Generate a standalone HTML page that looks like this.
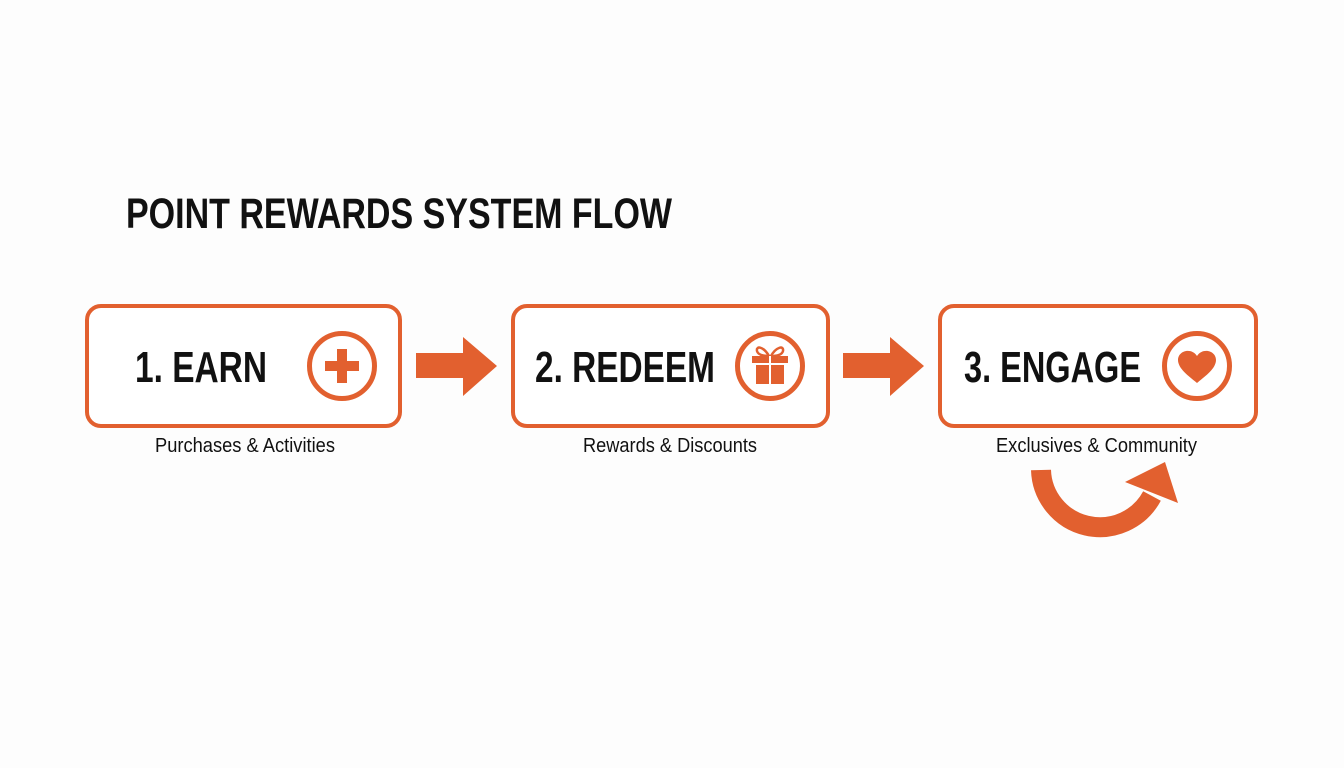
<!DOCTYPE html>
<html>
<head>
<meta charset="utf-8">
<style>
  html, body { margin: 0; padding: 0; background: #fdfdfd; }
  svg { display: block; }
  text { font-family: "Liberation Sans", Arial, sans-serif; fill: #111; }
</style>
</head>
<body>
<svg width="1344" height="768" viewBox="0 0 1344 768" xmlns="http://www.w3.org/2000/svg">
  <rect x="0" y="0" width="1344" height="768" fill="#fdfdfd"/>

  <!-- Title -->
  <text x="126" y="228" font-size="43" font-weight="bold" textLength="546" lengthAdjust="spacingAndGlyphs">POINT REWARDS SYSTEM FLOW</text>

  <!-- Box 1 -->
  <rect x="87" y="306" width="313" height="120" rx="14" ry="14" fill="#ffffff" stroke="#E2602F" stroke-width="4"/>
  <text x="135" y="382" font-size="44" font-weight="bold" textLength="132" lengthAdjust="spacingAndGlyphs">1. EARN</text>
  <circle cx="342" cy="366" r="32.5" fill="none" stroke="#E2602F" stroke-width="5"/>
  <rect x="325" y="361" width="34" height="10" fill="#E2602F"/>
  <rect x="337" y="349" width="10" height="34" fill="#E2602F"/>
  <text x="155" y="452" font-size="20" textLength="180" lengthAdjust="spacingAndGlyphs">Purchases &amp; Activities</text>

  <!-- Arrow 1 -->
  <polygon points="416,353 463,353 463,337 497,366 463,396 463,378 416,378" fill="#E2602F"/>

  <!-- Box 2 -->
  <rect x="513" y="306" width="315" height="120" rx="14" ry="14" fill="#ffffff" stroke="#E2602F" stroke-width="4"/>
  <text x="535" y="382" font-size="44" font-weight="bold" textLength="180" lengthAdjust="spacingAndGlyphs">2. REDEEM</text>
  <circle cx="770" cy="366" r="32.5" fill="none" stroke="#E2602F" stroke-width="5"/>
  <!-- gift -->
  <path d="M769,356 C764,347 756,345 757,351 C758,355 764,356 769,356 Z" fill="none" stroke="#E2602F" stroke-width="2.5"/>
  <path d="M771,356 C776,347 784,345 783,351 C782,355 776,356 771,356 Z" fill="none" stroke="#E2602F" stroke-width="2.5"/>
  <rect x="752" y="356" width="36" height="7" fill="#E2602F"/>
  <rect x="756" y="365" width="28" height="19" fill="#E2602F"/>
  <rect x="769" y="356" width="2" height="28" fill="#ffffff"/>

  <text x="583" y="452" font-size="20" textLength="174" lengthAdjust="spacingAndGlyphs">Rewards &amp; Discounts</text>

  <!-- Arrow 2 -->
  <polygon points="843,353 890,353 890,337 924,366 890,396 890,378 843,378" fill="#E2602F"/>

  <!-- Box 3 -->
  <rect x="940" y="306" width="316" height="120" rx="14" ry="14" fill="#ffffff" stroke="#E2602F" stroke-width="4"/>
  <text x="964" y="382" font-size="44" font-weight="bold" textLength="177" lengthAdjust="spacingAndGlyphs">3. ENGAGE</text>
  <circle cx="1197" cy="366" r="32.5" fill="none" stroke="#E2602F" stroke-width="5"/>
  <path d="M1197,383 C1190,377 1178,369 1178,360 C1178,351 1191,347 1197,356 C1203,347 1216,351 1216,360 C1216,369 1204,377 1197,383 Z" fill="#E2602F"/>
  <text x="996" y="452" font-size="20" textLength="201" lengthAdjust="spacingAndGlyphs">Exclusives &amp; Community</text>

  <!-- Curved arrow -->
  <path d="M1041,470 A59,59 0 0 0 1152,496" fill="none" stroke="#E2602F" stroke-width="20"/>
  <polygon points="1125,482 1165,462 1178,503" fill="#E2602F"/>
</svg>
</body>
</html>
